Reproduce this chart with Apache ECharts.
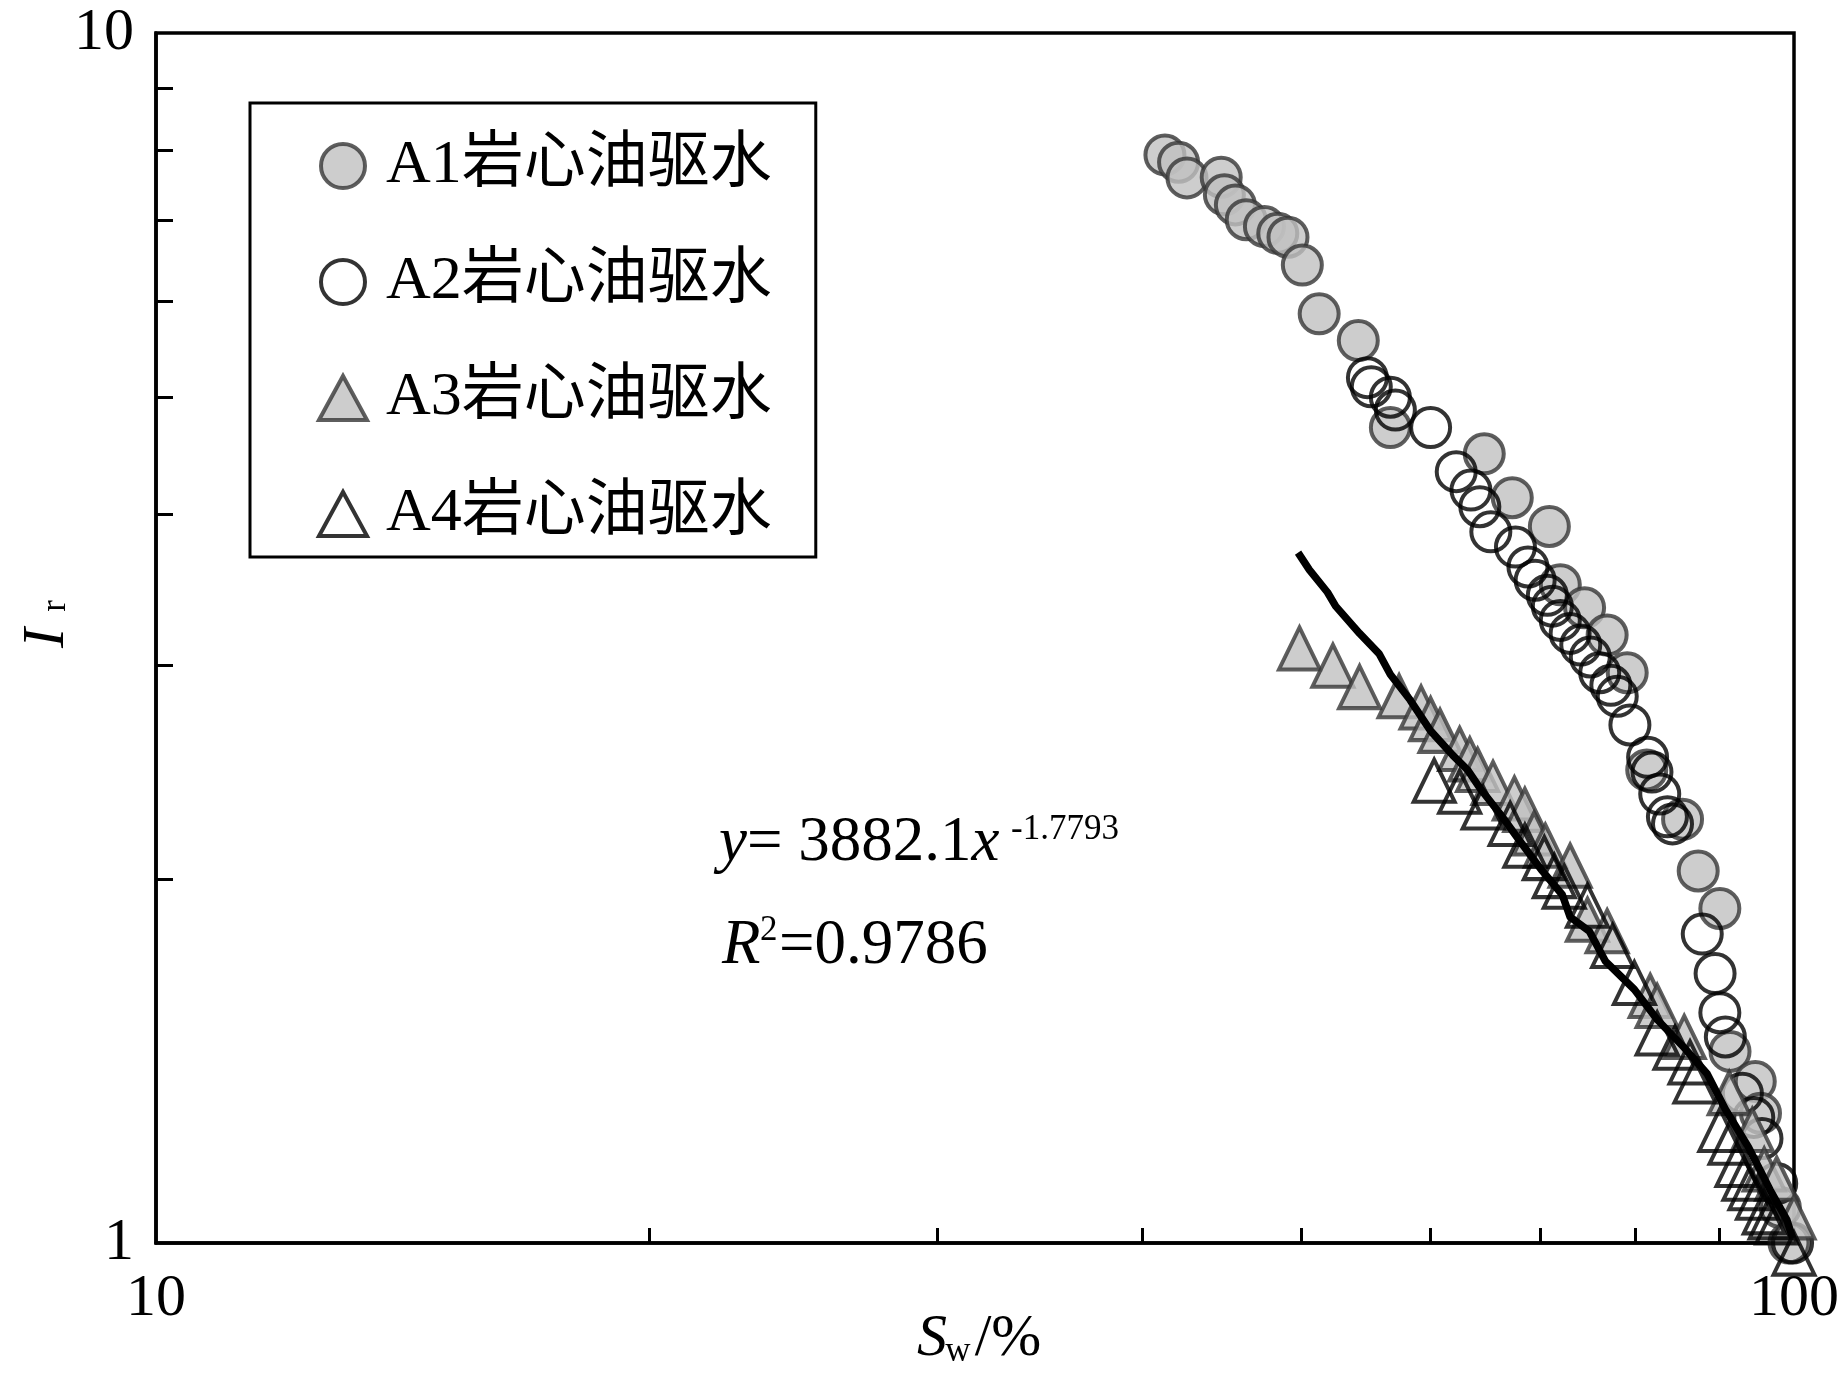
<!DOCTYPE html>
<html>
<head>
<meta charset="utf-8">
<script src="https://cdn.jsdelivr.net/npm/echarts@6.0.0/dist/echarts.min.js"></script>
<style>
  html, body { margin: 0; padding: 0; background: #fff; }
  #chart { width: 1842px; height: 1381px; }
</style>
</head>
<body>
<div id="chart"></div>
<script>
// Sw (%) and Ir values
const a1Sw = [41.3, 42.1, 42.6, 44.7, 44.9, 45.6, 46.3, 47.5, 48.4, 49.1, 50.1, 51.3, 54.2, 56.7, 64.7, 67.3, 70.9, 72.0, 74.5, 76.9, 79.1, 81.3, 85.5, 87.4, 90.1, 91.4, 94.7, 95.4, 98.1, 99.3]
const a1Ir = [7.93, 7.82, 7.59, 7.60, 7.35, 7.21, 7.01, 6.92, 6.83, 6.78, 6.43, 5.86, 5.57, 4.72, 4.49, 4.13, 3.91, 3.50, 3.35, 3.18, 2.96, 2.46, 2.24, 2.03, 1.89, 1.44, 1.36, 1.28, 1.07, 1.0]

const a2Sw = [54.9, 55.2, 56.7, 57.1, 60.0, 62.2, 63.5, 64.3, 65.3, 67.6, 68.8, 69.5, 70.7, 71.2, 72.0, 73.0, 74.1, 75.1, 76.1, 77.3, 78.0, 79.4, 81.4, 81.9, 82.8, 83.7, 84.3, 87.9, 89.5, 90.1, 90.8, 93.0, 94.5, 95.6, 97.6, 99.8]
const a2Ir = [5.19, 5.10, 5.00, 4.88, 4.72, 4.34, 4.19, 4.06, 3.87, 3.76, 3.62, 3.53, 3.43, 3.36, 3.27, 3.19, 3.12, 3.05, 2.96, 2.89, 2.83, 2.68, 2.52, 2.45, 2.35, 2.25, 2.22, 1.80, 1.67, 1.55, 1.48, 1.33, 1.27, 1.22, 1.12, 1.0]

const a3Sw = [49.9, 52.3, 54.3, 57.4, 59.2, 60.0, 60.8, 62.5, 63.4, 64.1, 65.5, 67.5, 68.5, 69.4, 70.5, 73.0, 74.8, 76.9, 81.7, 82.5, 85.7, 91.3, 94.3, 95.9, 97.6, 100]
const a3Ir = [3.10, 3.00, 2.88, 2.83, 2.77, 2.71, 2.65, 2.56, 2.51, 2.46, 2.40, 2.33, 2.28, 2.18, 2.13, 2.05, 1.85, 1.81, 1.60, 1.57, 1.48, 1.33, 1.24, 1.15, 1.13, 1.05]

const a4Sw = [60.3, 62.5, 64.6, 67.1, 68.5, 70.4, 71.4, 72.4, 74.8, 77.5, 79.9, 82.5, 84.6, 86.4, 87.0, 90.1, 91.4, 92.3, 93.2, 94.0, 95.0, 95.9, 96.7, 97.6, 100]
const a4Ir = [2.41, 2.36, 2.29, 2.22, 2.13, 2.08, 2.01, 1.97, 1.90, 1.76, 1.64, 1.49, 1.45, 1.41, 1.36, 1.24, 1.21, 1.16, 1.13, 1.11, 1.09, 1.06, 1.05, 1.04, 0.98]

// fitted curve y = 3882.1x^-1.7793
const fitSw = [49.8, 50.6, 51.9, 52.5, 54.3, 55.8, 56.7, 58.3, 60.0, 61.9, 63.2, 64.4, 66.2, 68.0, 70.2, 72.2, 73.0, 75.0, 76.7, 79.9, 82.5, 85.7, 88.5, 90.8, 93.8, 96.7, 99.0, 99.8]
const fitIr = [3.72, 3.60, 3.45, 3.36, 3.19, 3.07, 2.95, 2.81, 2.65, 2.53, 2.46, 2.37, 2.26, 2.15, 2.03, 1.94, 1.86, 1.81, 1.71, 1.62, 1.53, 1.45, 1.38, 1.29, 1.20, 1.106, 1.045, 1.01]

const seriesNames = ['A1岩心油驱水', 'A2岩心油驱水', 'A3岩心油驱水', 'A4岩心油驱水']
const xTickValues = [20, 30, 40, 50, 60, 70, 80, 90]
const yTickValues = [2, 3, 4, 5, 6, 7, 8, 9]
const xLabelValues = [10, 100]
const yLabelValues = [1, 10]

const serif = 'Liberation Serif, Times New Roman, Noto Sans CJK SC'
// legend triangle drawn inside a 76x44 box so it keeps its shape
const legendTriangle = 'path://M0,0 M76,0 M76,44 M14,44 L38,0 L62,44 Z'

function pairs (xs, ys) {
  return xs.map((x, i) => [x, ys[i]])
}

const styles = [
  { color: '#c0c0c0', borderColor: '#363636', borderWidth: 4 },
  { color: 'rgba(0,0,0,0)', borderColor: '#000', borderWidth: 4 },
  { color: '#c0c0c0', borderColor: '#363636', borderWidth: 4 },
  { color: 'rgba(0,0,0,0)', borderColor: '#000', borderWidth: 4 }
]
const symbols = ['circle', 'circle', 'triangle', 'triangle']
const legendIcons = ['circle', 'circle', legendTriangle, legendTriangle]
const sizes = [39, 39, [41, 42], [41, 42]]
const sets = [pairs(a1Sw, a1Ir), pairs(a2Sw, a2Ir), pairs(a3Sw, a3Ir), pairs(a4Sw, a4Ir)]

let series = seriesNames.map((name, i) => ({
  name: name,
  type: 'scatter',
  symbol: symbols[i],
  symbolSize: sizes[i],
  clip: false,
  itemStyle: styles[i],
  emphasis: { disabled: true },
  z: 2 + i,
  data: sets[i]
}))
series.push({
  name: 'fit',
  type: 'line',
  showSymbol: false,
  smooth: false,
  lineStyle: { color: '#000', width: 7.5, join: 'round' },
  z: 10,
  data: pairs(fitSw, fitIr)
})

const chart = echarts.init(document.getElementById('chart'))
const option = {
  backgroundColor: '#fff',
  animation: false,
  grid: {
    left: 156,
    right: 45,
    top: 33,
    bottom: 138,
    show: true,
    borderColor: '#000',
    borderWidth: 3.5
  },
  legend: {
    orient: 'vertical',
    left: 250,
    top: 103,
    padding: [32, 44, 12, 53],
    itemGap: 54,
    itemWidth: 76,
    itemHeight: 44,
    borderColor: '#000',
    borderWidth: 3,
    backgroundColor: '#fff',
    textStyle: { fontFamily: serif, fontSize: 62, color: '#000' },
    data: seriesNames.map((name, i) => ({ name: name, icon: legendIcons[i], itemStyle: styles[i] }))
  },
  xAxis: {
    type: 'log',
    logBase: 10,
    min: 10,
    max: 100,
    axisLine: { lineStyle: { color: '#000', width: 3.5 } },
    axisTick: { show: true, inside: true, length: 15, lineStyle: { color: '#000', width: 3 }, customValues: xTickValues },
    axisLabel: { customValues: xLabelValues, fontFamily: serif, fontSize: 60, color: '#000', margin: 26 },
    splitLine: { show: false },
    minorTick: { show: false }
  },
  yAxis: {
    type: 'log',
    logBase: 10,
    min: 1,
    max: 10,
    axisLine: { lineStyle: { color: '#000', width: 3.5 } },
    axisTick: { show: true, inside: true, length: 17, lineStyle: { color: '#000', width: 3 }, customValues: yTickValues },
    axisLabel: { customValues: yLabelValues, fontFamily: serif, fontSize: 60, color: '#000', margin: 22 },
    splitLine: { show: false },
    minorTick: { show: false }
  },
  graphic: [
    // fitted equation
    { type: 'text', x: 719, y: 843, z: 20, style: { text: '{i|y}= 3882.1{i|x}', rich: { i: { fontStyle: 'italic', fontFamily: serif, fontSize: 63 } }, fontFamily: serif, fontSize: 63, fill: '#000', verticalAlign: 'middle' } },
    { type: 'text', x: 1011, y: 830, z: 20, style: { text: '-1.7793', fontFamily: serif, fontSize: 35, fill: '#000', verticalAlign: 'middle' } },
    { type: 'text', x: 722, y: 946, z: 20, style: { text: 'R', fontStyle: 'italic', fontFamily: serif, fontSize: 63, fill: '#000', verticalAlign: 'middle' } },
    { type: 'text', x: 760, y: 931, z: 20, style: { text: '2', fontFamily: serif, fontSize: 35, fill: '#000', verticalAlign: 'middle' } },
    { type: 'text', x: 779, y: 946, z: 20, style: { text: '=0.9786', fontFamily: serif, fontSize: 63, fill: '#000', verticalAlign: 'middle' } },
    // x axis name Sw/%
    { type: 'text', x: 932, y: 1339, style: { text: 'S', fontStyle: 'italic', fontFamily: serif, fontSize: 60, fill: '#000', align: 'center', verticalAlign: 'middle' } },
    { type: 'text', x: 958, y: 1352, style: { text: 'w', fontFamily: serif, fontSize: 35, fill: '#000', align: 'center', verticalAlign: 'middle' } },
    { type: 'text', x: 1008, y: 1339, style: { text: '/%', fontFamily: serif, fontSize: 60, fill: '#000', align: 'center', verticalAlign: 'middle' } },
    // y axis name Ir
    { type: 'text', x: 47, y: 638, rotation: Math.PI / 2, style: { text: 'I', fontStyle: 'italic', fontFamily: serif, fontSize: 60, fill: '#000', align: 'center', verticalAlign: 'middle' } },
    { type: 'text', x: 56, y: 606, rotation: Math.PI / 2, style: { text: 'r', fontFamily: serif, fontSize: 35, fill: '#000', align: 'center', verticalAlign: 'middle' } }
  ],
  series: series
}
chart.setOption(option)
</script>
</body>
</html>
